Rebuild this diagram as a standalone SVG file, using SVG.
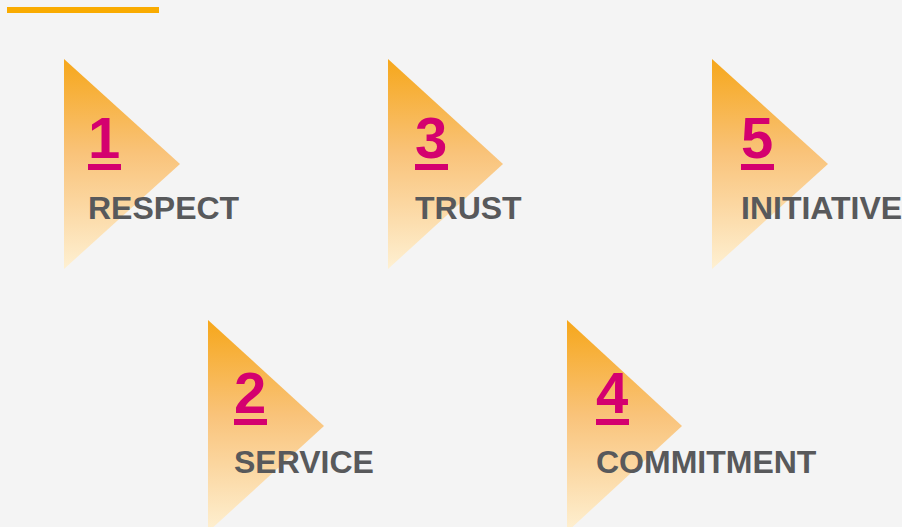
<svg xmlns="http://www.w3.org/2000/svg" width="902" height="527" viewBox="0 0 902 527">
  <defs>
    <linearGradient id="triFill" x1="0" y1="0" x2="0" y2="1">
      <stop offset="0" stop-color="#F6A71B"/>
      <stop offset="0.45" stop-color="#F9C37A"/>
      <stop offset="1" stop-color="#FEF0D2"/>
    </linearGradient>
    <style>
      .tri { fill: url(#triFill); }
      .num { font-family: "Liberation Sans", Arial, sans-serif; font-weight: bold; font-size: 58px; fill: #D4006F; }
      .uline { fill: #D4006F; }
      .label { font-family: "Liberation Sans", Arial, sans-serif; font-weight: bold; font-size: 32px; fill: #58595B; }
    </style>
  </defs>

  <rect width="902" height="527" fill="#F4F4F4"/>
  <!-- accent bar -->
  <rect x="7" y="7" width="152" height="6" fill="#F9AB00"/>

  <g id="respect">
    <polygon class="tri" points="64,59 180,164 64,269"/>
    <text class="num" x="88" y="158">1</text>
    <rect class="uline" x="88" y="164" width="33" height="6"/>
    <text class="label" x="88" y="219">RESPECT</text>
  </g>

  <g id="trust">
    <polygon class="tri" points="388,59 503,164 388,269"/>
    <text class="num" x="415" y="158">3</text>
    <rect class="uline" x="415" y="164" width="33" height="6"/>
    <text class="label" x="415" y="219">TRUST</text>
  </g>

  <g id="initiative">
    <polygon class="tri" points="712,59 828,164 712,269"/>
    <text class="num" x="741" y="158">5</text>
    <rect class="uline" x="741" y="164" width="33" height="6"/>
    <text class="label" x="741" y="219">INITIATIVE</text>
  </g>

  <g id="service">
    <polygon class="tri" points="208,320 324,426 208,532"/>
    <text class="num" x="234" y="413">2</text>
    <rect class="uline" x="234" y="419" width="33" height="6"/>
    <text class="label" x="234" y="473">SERVICE</text>
  </g>

  <g id="commitment">
    <polygon class="tri" points="567,320 682,426 567,532"/>
    <text class="num" x="596" y="413">4</text>
    <rect class="uline" x="596" y="419" width="33" height="6"/>
    <text class="label" x="596" y="473">COMMITMENT</text>
  </g>

  <g id="connectors"/>
</svg>
